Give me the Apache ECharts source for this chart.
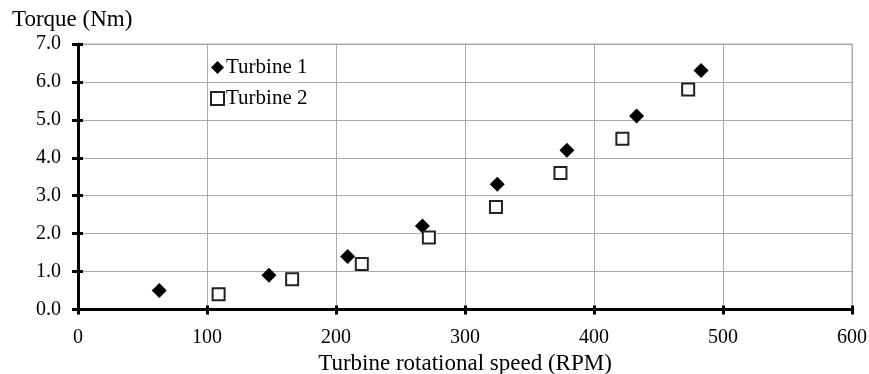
<!DOCTYPE html>
<html><head><meta charset="utf-8">
<script src="https://cdn.jsdelivr.net/npm/echarts@6/dist/echarts.min.js"></script>
<style>html,body{margin:0;padding:0;background:#fff}#c{width:869px;height:374px}</style>
</head><body><div id="c"></div>
<script>
const turbine1X = [63, 148, 209, 267, 325, 379, 433, 483];
const turbine1Y = [0.5, 0.9, 1.4, 2.2, 3.3, 4.2, 5.1, 6.3];
const turbine2X = [109, 166, 220, 272, 324, 374, 422, 473];
const turbine2Y = [0.4, 0.8, 1.2, 1.9, 2.7, 3.6, 4.5, 5.8];
const seriesNames = ['Turbine 1', 'Turbine 2'];
const xTitle = 'Turbine rotational speed (RPM)';
const yTitle = 'Torque (Nm)';

const font = 'Liberation Serif';
const chart = echarts.init(document.getElementById('c'));
const axisLine = {show: true, onZero: false, lineStyle: {color: '#000', width: 3}};
const split = {show: true, lineStyle: {color: '#aaa', width: 1}};
chart.setOption({
  animation: false,
  backgroundColor: '#fff',
  grid: {left: 78, right: 17, top: 44, bottom: 64.5, show: true, borderColor: '#aaa', borderWidth: 1,
         containLabel: false, outerBoundsMode: 'none'},
  title: {text: yTitle, left: 7, top: 3, textStyle: {fontFamily: font, fontSize: 23, fontWeight: 'normal', color: '#000'}},
  legend: {
    orient: 'vertical', left: 205, top: 52, itemGap: 10, itemWidth: 13, itemHeight: 13,
    textStyle: {fontFamily: font, fontSize: 21, color: '#000', padding: [0, 0, 0, -3]},
    data: seriesNames
  },
  xAxis: [{
    type: 'value', min: 0, max: 600, interval: 100,
    name: xTitle, nameLocation: 'middle', nameGap: 34,
    nameTextStyle: {fontFamily: font, fontSize: 23, color: '#000'},
    axisLine, splitLine: split,
    axisTick: {show: true, length: 5, lineStyle: {color: '#000', width: 3}},
    axisLabel: {fontFamily: font, fontSize: 20, color: '#000', margin: 18}
  }, {
    type: 'value', min: 0, max: 600, interval: 100, position: 'bottom',
    axisLine: {show: false}, splitLine: {show: false}, axisLabel: {show: false},
    axisTick: {show: true, inside: true, length: 4, lineStyle: {color: '#000', width: 3}}
  }],
  yAxis: [{
    type: 'value', min: 0, max: 7, interval: 1,
    axisLine, splitLine: split,
    axisTick: {show: true, length: 6, lineStyle: {color: '#000', width: 3}},
    axisLabel: {fontFamily: font, fontSize: 20, color: '#000', margin: 17, formatter: v => v.toFixed(1)}
  }, {
    type: 'value', min: 0, max: 7, interval: 1, position: 'left',
    axisLine: {show: false}, splitLine: {show: false}, axisLabel: {show: false},
    axisTick: {show: true, inside: true, length: 5, lineStyle: {color: '#000', width: 3}}
  }],
  series: [{
    name: seriesNames[0], type: 'scatter', symbol: 'diamond', symbolSize: 15,
    itemStyle: {color: '#000', opacity: 1},
    data: turbine1X.map((x, i) => [x, turbine1Y[i]])
  }, {
    name: seriesNames[1], type: 'scatter', symbol: 'rect', symbolSize: 12,
    itemStyle: {color: '#fff', borderColor: '#222', borderWidth: 2, opacity: 1},
    data: turbine2X.map((x, i) => [x, turbine2Y[i]])
  }]
});
</script></body></html>
